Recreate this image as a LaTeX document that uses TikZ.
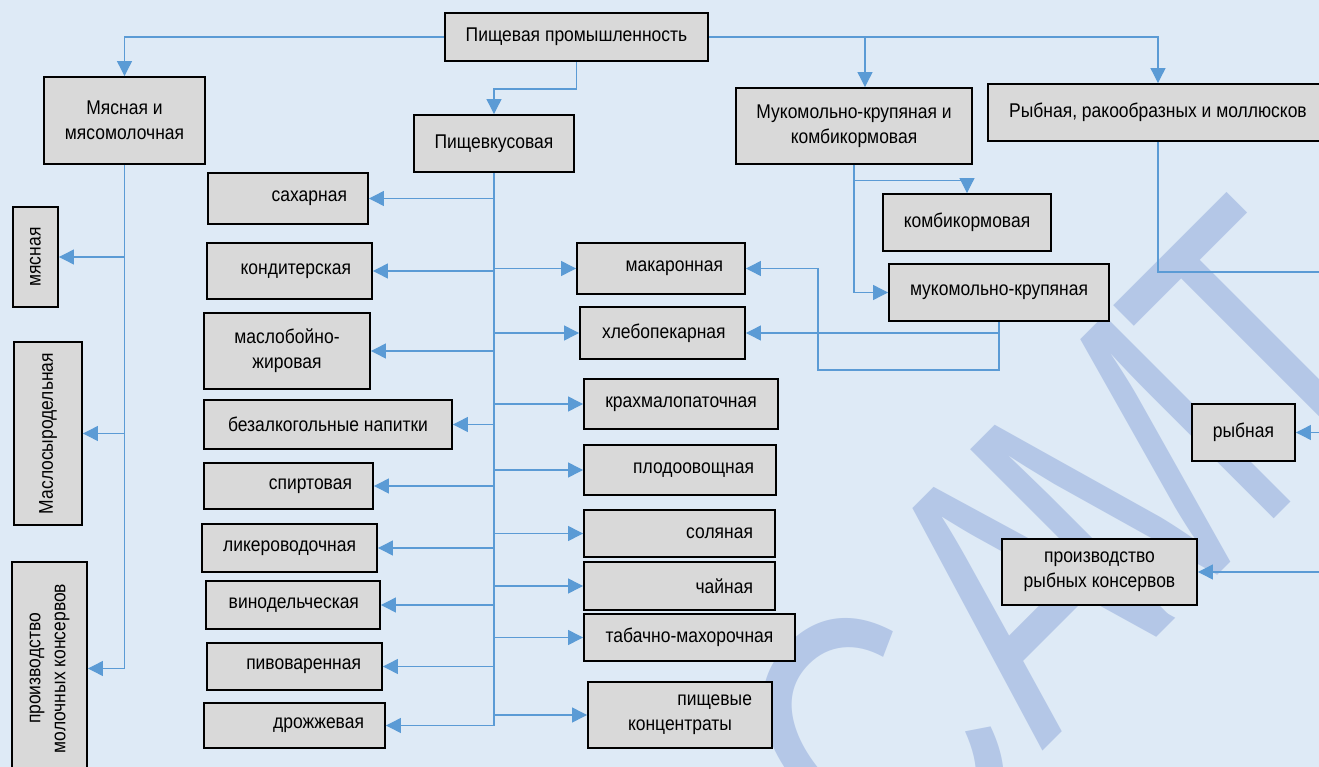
\documentclass[tikz,border=0pt]{standalone}
\usepackage{fontspec}
\setmainfont[FakeStretch=0.88]{Liberation Sans}
\newfontfamily\wmfont[FakeStretch=0.74]{Liberation Sans}
\usetikzlibrary{arrows.meta}
\definecolor{bgblue}{RGB}{222,234,246}
\definecolor{lineblue}{RGB}{91,155,213}
\definecolor{boxgray}{RGB}{217,217,217}
\definecolor{wmblue}{RGB}{180,199,231}

\begin{document}
\begin{tikzpicture}[x=0.02cm,y=-0.02cm,
  box/.style={draw=black, line width=1.1pt, fill=boxgray, inner sep=0pt, align=center, font=\fontsize{11.3}{14.2}\selectfont},
  rbox/.style={box, align=right},
  vbox/.style={box, rotate=90},
  link/.style={draw=lineblue, line width=0.7pt},
  arr/.style={link, -{Triangle[length=0.3cm,width=0.3cm]}},
  wm/.style={text=wmblue, font=\wmfont\fontsize{218}{218}\selectfont, inner sep=0pt, rotate=45}]

\useasboundingbox[fill=bgblue] (0,0) rectangle (1319,767);
\clip (0,0) rectangle (1319,767);

% watermark
\foreach \ch/\x/\y in {С/880/745, А/1016/591, М/1131/476, Т/1264/342}
  \node[wm] at (\x,\y) {\ch};

%%%%%%%%%%%%%%%%%%%%%%%%%%%%%%%%%%%%%%%%%%%%
\node[box, minimum width=5.26cm, minimum height=0.96cm] (prom) at (576.5,37) {Пищевая промышленность};
\node[box, minimum width=3.22cm, minimum height=1.74cm] (myas) at (124.5,120.5) {Мясная и\\мясомолочная};
\node[box, minimum width=3.2cm, minimum height=1.14cm] (pk) at (494,143.5) {Пищевкусовая};
\node[box, minimum width=4.72cm, minimum height=1.52cm] (muk) at (854,126) {Мукомольно-крупяная и\\комбикормовая};
\node[box, minimum width=6.8cm, minimum height=1.14cm] (ryb) at (1158,112.5) {Рыбная, ракообразных и моллюсков};

%%%%%%%%%%%%%%%%%%%%%%%%%%%%%%%%%%%%%%%%%%%%
\node[vbox, minimum width=2.0cm, minimum height=0.9cm] (myasn) at (35.5,257) {мясная};
\node[vbox, minimum width=3.66cm, minimum height=1.36cm] (mslsyr) at (48,433.5) {Маслосыродельная};
\node[vbox, minimum width=4.26cm, minimum height=1.5cm] (molk) at (49.5,668.5) {производство\\молочных консервов};

%%%%%%%%%%%%%%%%%%%%%%%%%%%%%%%%%%%%%%%%%%%%
\node[rbox, minimum width=3.2cm, minimum height=1.02cm, text width=2.36cm] (sah) at (288,198.5) {сахарная};
\node[rbox, minimum width=3.3cm, minimum height=1.12cm, text width=2.46cm] (kond) at (289.5,271) {кондитерская};
\node[box, minimum width=3.32cm, minimum height=1.52cm] (maslj) at (287,351) {маслобойно-\\жировая};
\node[box, minimum width=4.96cm, minimum height=0.98cm] (bezalk) at (328,424.5) {безалкогольные напитки};
\node[rbox, minimum width=3.38cm, minimum height=0.92cm, text width=2.54cm] (spirt) at (288.5,486) {спиртовая};
\node[rbox, minimum width=3.5cm, minimum height=0.96cm, text width=2.66cm] (liker) at (289.5,548) {ликероводочная};
\node[rbox, minimum width=3.48cm, minimum height=0.96cm, text width=2.64cm] (vino) at (293,605) {винодельческая};
\node[rbox, minimum width=3.5cm, minimum height=0.94cm, text width=2.66cm] (pivo) at (294.5,666.5) {пивоваренная};
\node[rbox, minimum width=3.62cm, minimum height=0.9cm, text width=2.78cm] (drozh) at (294.5,725.5) {дрожжевая};

\node[rbox, minimum width=3.36cm, minimum height=1.02cm, text width=2.48cm] (makar) at (661,268.5) {макаронная};
\node[rbox, minimum width=3.3cm, minimum height=1.04cm, text width=2.42cm] (hleb) at (662.5,333) {хлебопекарная};
\node[box, minimum width=3.88cm, minimum height=1.0cm] (krahm) at (681,404) {крахмалопаточная};
\node[rbox, minimum width=3.84cm, minimum height=1.0cm, text width=2.96cm] (plod) at (680,470) {плодоовощная};
\node[rbox, minimum width=3.82cm, minimum height=0.94cm, text width=2.94cm] (sol) at (679.5,533.5) {соляная};
\node[rbox, minimum width=3.82cm, minimum height=0.96cm, text width=2.94cm] (chai) at (679.5,586) {чайная};
\node[box, minimum width=4.22cm, minimum height=0.94cm] (tabak) at (689.5,637.5) {табачно-махорочная};
\node[rbox, minimum width=3.68cm, minimum height=1.32cm, text width=2.88cm] (konc) at (680,715) {пищевые\\концентраты\kern0.4cm};

%%%%%%%%%%%%%%%%%%%%%%%%%%%%%%%%%%%%%%%%%%%%
\node[box, minimum width=3.36cm, minimum height=1.14cm] (kombi) at (967,222.5) {комбикормовая};
\node[box, minimum width=4.4cm, minimum height=1.14cm] (mkr) at (999,292.5) {мукомольно-крупяная};
\node[box, minimum width=2.06cm, minimum height=1.14cm] (rybn) at (1243.5,432.5) {рыбная};
\node[box, minimum width=3.9cm, minimum height=1.32cm] (kryb) at (1099.5,572) {производство\\рыбных консервов};

%%%%%%%%%%%%%%%%%%%%%%%%%%%%%%%%%%%%%%%%%%%%
\coordinate (mj) at (865,37);
\draw[arr] (prom.west) -| (myas.north);
\draw[arr] (prom.east) -| (ryb.north);
\draw[arr] (mj) -- (mj |- muk.north);
\draw[arr] (prom.south) -- ++(0,27) -| (pk.north);

% Мясная
\draw[link] (myas.south) -- (myas.south |- molk.center);
\draw[arr] (myas.south |- myasn.center) -- (myasn.south);
\draw[arr] (myas.south |- mslsyr.center) -- (mslsyr.south);
\draw[arr] (myas.south |- molk.center) -- (molk.south);

% Пищевкусовая
\draw[link, line width=1.7pt] (pk.south) -- (pk.south |- drozh.center);
\foreach \n in {sah,kond,maslj,bezalk,spirt,liker,vino,pivo,drozh}
  \draw[arr] (pk.south |- \n.center) -- (\n.east);
\foreach \n in {makar,hleb,krahm,plod,sol,chai,tabak,konc}
  \draw[arr] (pk.south |- \n.center) -- (\n.west);

% Мукомольно-крупяная
\draw[arr, line width=0.6pt] (muk.south) -- ++(0,16) -| (kombi.north);
\draw[arr, line width=0.6pt] (muk.south) |- (mkr.west);
\draw[arr] (mkr.south) -- ++(0,48) -- ++(-181,0) |- (makar.east);
\draw[arr] (mkr.south |- hleb.center) -- (hleb.east);

% Рыбная
\coordinate (rv) at (1335,272);
\draw[link, line width=1.1pt] (ryb.south) |- (rv) -- (rv |- kryb.center);
\draw[arr] (rv |- rybn.center) -- (rybn.east);
\draw[arr] (rv |- kryb.center) -- (kryb.east);

\end{tikzpicture}
\end{document}
